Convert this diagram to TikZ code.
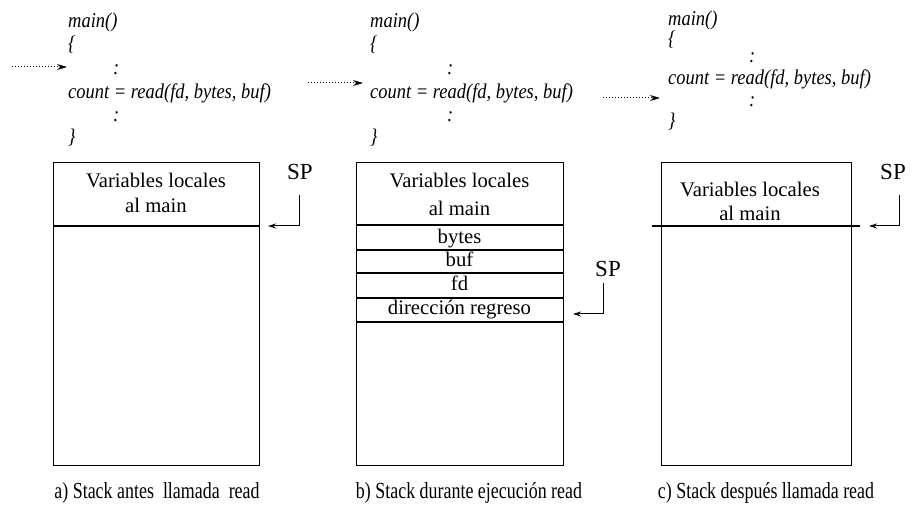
\documentclass[tikz,border=0pt]{standalone}
\usepackage{graphicx}
\usepackage{fontspec}
\setmainfont{Liberation Serif}
\usetikzlibrary{arrows.meta}
\newcommand{\cnd}[1]{\scalebox{0.88}[1]{#1}}
\newcommand{\capc}[1]{\scalebox{0.78}[1]{#1}}
\tikzset{
 code/.style={anchor=base west, inner sep=0pt, font=\fontsize{21}{25}\selectfont\itshape},
 boxtxt/.style={anchor=base, inner sep=0pt, font=\fontsize{20.7}{24}\selectfont},
 sptxt/.style={inner sep=0pt, font=\fontsize{23}{27}\selectfont},
 captxt/.style={anchor=base, inner sep=0pt, font=\fontsize{23}{27}\selectfont},
 stackbox/.style={draw, line width=1pt},
 divider/.style={line width=1.5pt},
 callarrow/.style={dotted, line width=1pt, -{Stealth[length=10pt,width=6pt]}},
 sparrow/.style={line width=1pt, -{Stealth[length=8pt,width=5pt]}},
}
\begin{document}
\begin{tikzpicture}[x=1pt,y=-1pt]
\useasboundingbox (0,0) rectangle (914,513);
% ---------- panel a code ----------
\node[code] (am) at (68,28) {\cnd{main()}};
\node[code] (ao) at (68,51) {\cnd{\{}};
\node[code] (ac1) at (113,75) {\cnd{:}};
\node[code] (ar) at (68,99) {\cnd{count = read(fd, bytes, buf)}};
\node[code] (ac2) at (113,122) {\cnd{:}};
\node[code] (acl) at (68,144) {\cnd{\}}};
\coordinate (aas) at (12,67);
\coordinate (aae) at (67,67);
\draw[callarrow] (aas) -- (aae);
% ---------- panel b code ----------
\node[code] (bm) at (370,28) {\cnd{main()}};
\node[code] (bo) at (370,51) {\cnd{\{}};
\node[code] (bc1) at (447,75) {\cnd{:}};
\node[code] (br) at (370,99) {\cnd{count = read(fd, bytes, buf)}};
\node[code] (bc2) at (447,122) {\cnd{:}};
\node[code] (bcl) at (370,144) {\cnd{\}}};
\coordinate (bas) at (308,83);
\coordinate (bae) at (363,83);
\draw[callarrow] (bas) -- (bae);
% ---------- panel c code ----------
\node[code] (cm) at (668,26) {\cnd{main()}};
\node[code] (co) at (668,46) {\cnd{\{}};
\node[code] (cc1) at (749,63) {\cnd{:}};
\node[code] (cr) at (668,85) {\cnd{count = read(fd, bytes, buf)}};
\node[code] (cc2) at (749,107) {\cnd{:}};
\node[code] (ccl) at (668,128) {\cnd{\}}};
\coordinate (cas) at (603,98);
\coordinate (cae) at (660,98);
\draw[callarrow] (cas) -- (cae);
% ---------- stack a ----------
\draw[stackbox] (53,163) rectangle (259,465);
\draw[divider] (53,226) -- (259,226);
\node[boxtxt] (av1) at (156,188) {Variables locales};
\node[boxtxt] (av2) at (156,213) {al main};
\node[sptxt] (asp) at (300,172) {SP};
\coordinate (asp1) at (299,195);
\coordinate (asp2) at (268,226);
\draw[sparrow] (asp1) |- (asp2);
\node[captxt] (acap) at (157,498) {\capc{a) Stack antes~ llamada~ read}};
% ---------- stack b ----------
\draw[stackbox] (356,163) rectangle (563,465);
\draw[divider] (356,225) -- (563,225);
\draw[divider] (356,250) -- (563,250);
\draw[divider] (356,273) -- (563,273);
\draw[divider] (356,298) -- (563,298);
\draw[divider] (356,322) -- (563,322);
\node[boxtxt] (bv1) at (459.5,188) {Variables locales};
\node[boxtxt] (bv2) at (459.5,216) {al main};
\node[boxtxt] (bby) at (459.5,244) {bytes};
\node[boxtxt] (bbu) at (459.5,267) {buf};
\node[boxtxt] (bfd) at (459.5,291) {fd};
\node[boxtxt] (bdr) at (459.5,315) {dirección regreso};
\node[sptxt] (bsp) at (608,269) {SP};
\coordinate (bsp1) at (603,283);
\coordinate (bsp2) at (573,314);
\draw[sparrow] (bsp1) |- (bsp2);
\node[captxt] (bcap) at (469,498) {\capc{b) Stack durante ejecución read}};
% ---------- stack c ----------
\draw[stackbox] (661,163) rectangle (851,465);
\draw[divider] (652,226) -- (860,226);
\node[boxtxt] (cv1) at (750,197) {Variables locales};
\node[boxtxt] (cv2) at (750,221) {al main};
\node[sptxt] (csp) at (893,172) {SP};
\coordinate (csp1) at (899,195);
\coordinate (csp2) at (869,226);
\draw[sparrow] (csp1) |- (csp2);
\node[captxt] (ccap) at (766,498) {\capc{c) Stack después llamada read}};
\end{tikzpicture}
\end{document}
